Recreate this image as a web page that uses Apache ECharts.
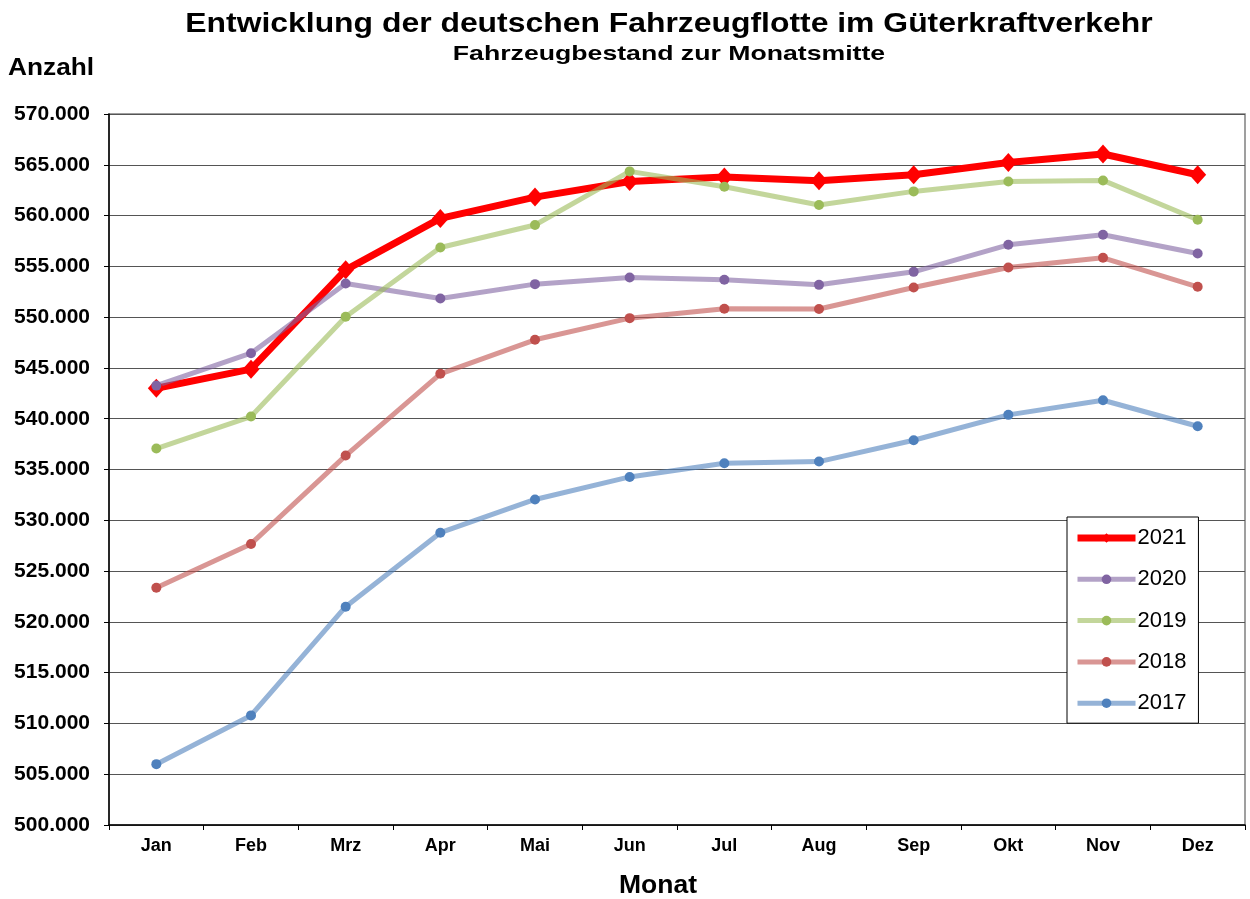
<!DOCTYPE html>
<html>
<head>
<meta charset="utf-8">
<script src="https://cdn.jsdelivr.net/npm/echarts@6/dist/echarts.min.js"></script>
<style>html,body{margin:0;padding:0;background:#fff}#c{width:1250px;height:899px}</style>
</head>
<body>
<div id="c"></div>
<script>
const months = ['Jan','Feb','Mrz','Apr','Mai','Jun','Jul','Aug','Sep','Okt','Nov','Dez'];
const y2021 = [543000,544880,554660,559720,561820,563360,563790,563430,564020,565230,566060,564020];
const y2020 = [543260,546450,553310,551830,553250,553900,553680,553180,554460,557120,558110,556270];
const y2019 = [537060,540210,550030,556860,559070,564350,562840,561040,562380,563360,563460,559590];
const y2018 = [523360,527670,536370,544420,547770,549900,550820,550800,552920,554890,555840,552990];
const y2017 = [505990,510790,521490,528780,532050,534270,535620,535780,537880,540380,541820,539260];
const seriesNames = ['2021','2020','2019','2018','2017'];
const yTicks = {min:500000, max:570000, interval:5000};

const F = '"Liberation Sans", Arial, sans-serif';
const chart = echarts.init(document.getElementById('c'), null, {renderer:'canvas'});

function fmt(v){ return String(v).replace(/\B(?=(\d{3})+(?!\d))/g,'.'); }

function lineSeries(name, data, marker, alphaColor){
  return {
    name, type:'line', data,
    symbol:'circle', symbolSize:10,
    itemStyle:{color:marker},
    lineStyle:{color:alphaColor, width:5},
    emphasis:{disabled:true}
  };
}

function label(text, size, x, y, sx){
  return {type:'text', x, y, scaleX:sx, scaleY:1,
    style:{text, font:'bold '+size+'px '+F, fill:'#000', x:0, y:0, align:'center', verticalAlign:'middle'}};
}

chart.setOption({
  animation:false,
  backgroundColor:'#fff',
  grid:{left:109, top:114, right:5, bottom:74, show:true, borderColor:'#808080', borderWidth:1.5, backgroundColor:'transparent'},
  graphic:[
    label('Entwicklung der deutschen Fahrzeugflotte im Güterkraftverkehr', 27, 669, 25, 1.181),
    label('Fahrzeugbestand zur Monatsmitte', 20.5, 669, 54, 1.30),
    {type:'text', x:8, y:69, scaleX:1.142, scaleY:1,
      style:{text:'Anzahl', font:'bold 23px '+F, fill:'#000', x:0, y:0, align:'left', verticalAlign:'middle'}},
    label('Monat', 26, 658, 886, 1.02)
  ],
  legend:{
    orient:'vertical', left:1067, top:517,
    padding:[10,12,9,7], itemGap:19.3,
    itemWidth:58, itemHeight:12,
    backgroundColor:'#fff', borderColor:'#000', borderWidth:1,
    lineStyle:{width:'inherit'},
    textStyle:{fontFamily:F, fontSize:22, color:'#000', padding:[0,0,0,-3]},
    data:seriesNames
  },
  xAxis:{
    type:'category', data:months, boundaryGap:true,
    axisLine:{lineStyle:{color:'#000', width:1.5}},
    axisTick:{show:true, length:5, lineStyle:{color:'#000'}, interval:0},
    axisLabel:{fontFamily:F, fontWeight:'bold', fontSize:18, color:'#000', margin:12, interval:0},
    splitLine:{show:false}
  },
  yAxis:{
    type:'value', min:yTicks.min, max:yTicks.max, interval:yTicks.interval,
    axisLine:{show:true, lineStyle:{color:'#000', width:1.5}},
    axisTick:{show:true, length:5, inside:false, lineStyle:{color:'#000'}},
    axisLabel:{fontFamily:F, fontWeight:'bold', fontSize:21, color:'#000', margin:19, formatter:fmt},
    splitLine:{show:true, lineStyle:{color:'#555', width:1}}
  },
  series:[
    {
      name:seriesNames[0], type:'line', data:y2021,
      symbol:'diamond', symbolSize:[17,19],
      itemStyle:{color:'#FF0000'},
      lineStyle:{color:'#FF0000', width:7},
      emphasis:{disabled:true}
    },
    lineSeries(seriesNames[1], y2020, '#8064A2', 'rgba(128,100,162,0.6)'),
    lineSeries(seriesNames[2], y2019, '#9BBB59', 'rgba(155,187,89,0.6)'),
    lineSeries(seriesNames[3], y2018, '#C0504D', 'rgba(192,80,77,0.6)'),
    lineSeries(seriesNames[4], y2017, '#4F81BD', 'rgba(79,129,189,0.6)')
  ]
});
</script>
</body>
</html>
